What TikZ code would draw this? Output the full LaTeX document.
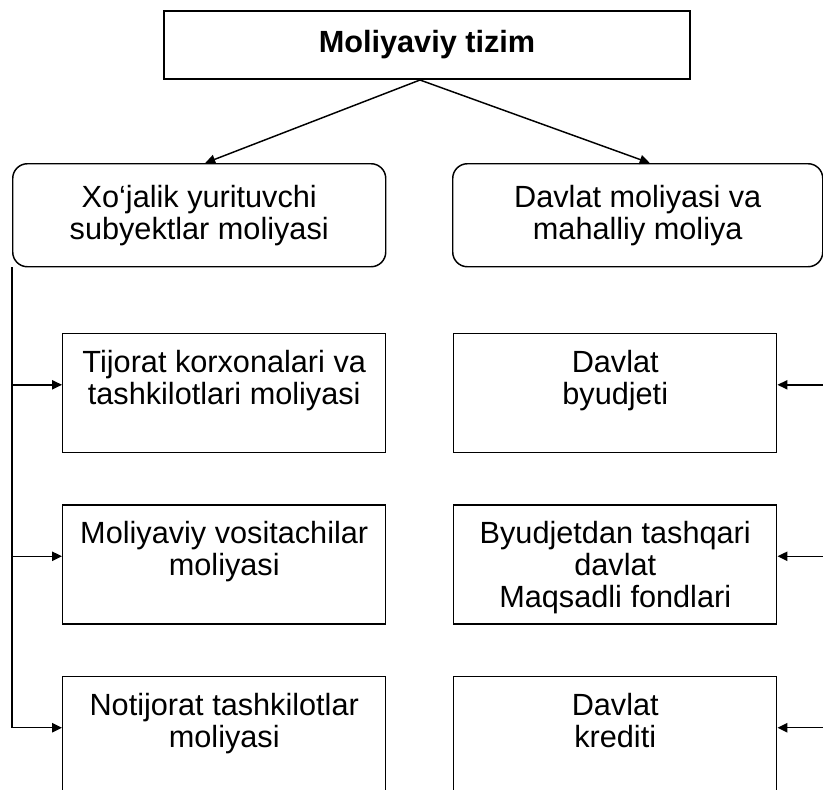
\documentclass[tikz,border=0pt]{standalone}
\usepackage{fontspec}
\setmainfont{Liberation Sans}
\usetikzlibrary{positioning,arrows.meta,calc}
\newcommand{\celltext}[1]{\parbox[c][89.25pt][t]{242.25pt}{\centering\rule{0pt}{29pt}#1}}

\begin{document}
\begin{tikzpicture}[x=0.75pt, y=-0.75pt,
  every node/.style={font=\fontsize{23}{24}\selectfont},
  headbox/.style={rectangle, draw, line width=1.5pt, minimum width=394.5pt,
                  minimum height=51pt, inner sep=0pt, font=\fontsize{23}{24}\selectfont\bfseries},
  groupbox/.style={rectangle, rounded corners=11pt, draw, line width=1.1pt,
                   minimum height=77.25pt, inner sep=0pt, align=center, anchor=north west},
  cellbox/.style={rectangle, draw, line width=1.1pt, inner sep=0pt, anchor=north west},
  arr/.style={-{Triangle[length=7.5pt,width=7pt]}, line width=1.1pt}
]
  \useasboundingbox (0,0) rectangle (823,789);
  \clip (0,0) rectangle (823,789);
  \node[headbox] (tizim) at (427,45) {Moliyaviy tizim};
  \node[groupbox, minimum width=279.75pt] (xojalik) at (12,163)
        {Xo‘jalik yurituvchi\\ subyektlar moliyasi};
  \node[groupbox, minimum width=277.5pt] (davlat) at (452,163)
        {Davlat moliyasi va\\ mahalliy moliya};
  % chap ustun
  \node[cellbox] (tijorat) at (62,333) {\celltext{Tijorat korxonalari va\\ tashkilotlari moliyasi}};
  \node[cellbox, below=38.25pt of tijorat] (vosita) {\celltext{Moliyaviy vositachilar\\ moliyasi}};
  \node[cellbox, below=38.25pt of vosita] (notijorat) {\celltext{Notijorat tashkilotlar\\ moliyasi}};
  % o'ng ustun
  \node[cellbox] (byudjet) at (453,333) {\celltext{Davlat\\ byudjeti}};
  \node[cellbox, below=38.25pt of byudjet] (fond) {\celltext{Byudjetdan tashqari\\ davlat\\ Maqsadli fondlari}};
  \node[cellbox, below=38.25pt of fond] (kredit) {\celltext{Davlat\\ krediti}};
  \coordinate (root) at ($(tizim.south)+(-7,0)$);
  \draw[arr] (root) -- ($(xojalik.north)+(6,0)$);
  \draw[arr] (root) -- ($(davlat.north)+(12,0)$);
  \coordinate (kp1) at ($(tijorat.north west)!0.43!(tijorat.south west)$);
  \coordinate (kp2) at ($(vosita.north west)!0.43!(vosita.south west)$);
  \coordinate (kp3) at ($(notijorat.north west)!0.43!(notijorat.south west)$);
  \draw[arr] (xojalik.south west) |- (kp3);
  \draw[arr] (xojalik.south west |- kp1) -- (kp1);
  \draw[arr] (xojalik.south west |- kp2) -- (kp2);
  \coordinate (dp1) at ($(byudjet.north east)!0.43!(byudjet.south east)$);
  \coordinate (dp2) at ($(fond.north east)!0.43!(fond.south east)$);
  \coordinate (dp3) at ($(kredit.north east)!0.43!(kredit.south east)$);
  \coordinate (edge) at (823,0);
  \draw[arr] (edge |- dp1) -- (dp1);
  \draw[arr] (edge |- dp2) -- (dp2);
  \draw[arr] (edge |- dp3) -- (dp3);
\end{tikzpicture}
\end{document}
